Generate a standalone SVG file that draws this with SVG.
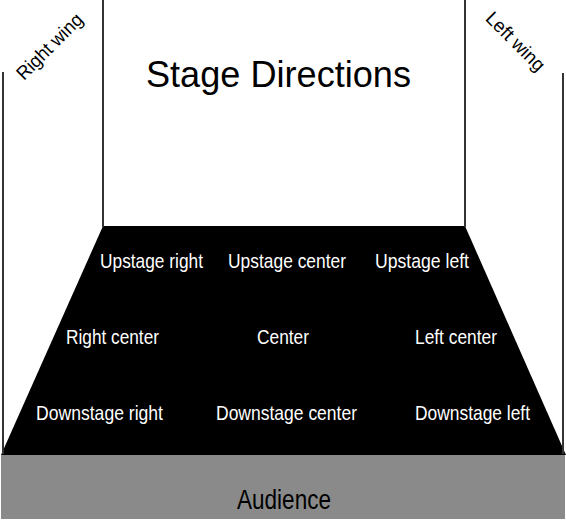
<svg xmlns="http://www.w3.org/2000/svg" width="566" height="520" viewBox="0 0 566 520">
<style>
.ln{stroke:#333;stroke-width:2;fill:none}
.w{fill:#fff;font-family:"Liberation Sans",Arial,sans-serif;font-size:21px}
.k{fill:#000;font-family:"Liberation Sans",Arial,sans-serif}
</style>
<rect x="0" y="0" width="566" height="520" fill="#fff"/>
<g id="audience">
<rect x="1" y="455" width="564" height="64" fill="#8a8a8a"/>
<text class="k" x="237" y="509" font-size="27" textLength="94" lengthAdjust="spacingAndGlyphs">Audience</text>
</g>
<g id="stage">
<polygon points="103,226 465,226 566,455 1,455" fill="#000"/>
</g>
<g id="connectors">
<line class="ln" x1="3" y1="72" x2="3" y2="454"/>
<line class="ln" x1="103" y1="0" x2="103" y2="227"/>
<line class="ln" x1="465" y1="0" x2="465" y2="227"/>
<line class="ln" x1="563" y1="73" x2="563" y2="454"/>
</g>
<g id="title">
<text class="k" x="146" y="87" font-size="36" textLength="265" lengthAdjust="spacingAndGlyphs">Stage Directions</text>
</g>
<g id="right-wing">
<text class="k" font-size="19" text-anchor="middle" textLength="85" lengthAdjust="spacingAndGlyphs" transform="translate(54,51) rotate(-45)">Right wing</text>
</g>
<g id="left-wing">
<text class="k" font-size="19" text-anchor="middle" textLength="75" lengthAdjust="spacingAndGlyphs" transform="translate(511,46) rotate(45)">Left wing</text>
</g>
<g id="upstage-right"><text class="w" x="100" y="268" textLength="103" lengthAdjust="spacingAndGlyphs">Upstage right</text></g>
<g id="upstage-center"><text class="w" x="228" y="268" textLength="118" lengthAdjust="spacingAndGlyphs">Upstage center</text></g>
<g id="upstage-left"><text class="w" x="375" y="268" textLength="94" lengthAdjust="spacingAndGlyphs">Upstage left</text></g>
<g id="right-center"><text class="w" x="66" y="344" textLength="93" lengthAdjust="spacingAndGlyphs">Right center</text></g>
<g id="center"><text class="w" x="257" y="344" textLength="52" lengthAdjust="spacingAndGlyphs">Center</text></g>
<g id="left-center"><text class="w" x="415" y="344" textLength="82" lengthAdjust="spacingAndGlyphs">Left center</text></g>
<g id="downstage-right"><text class="w" x="36" y="420" textLength="127" lengthAdjust="spacingAndGlyphs">Downstage right</text></g>
<g id="downstage-center"><text class="w" x="216" y="420" textLength="141" lengthAdjust="spacingAndGlyphs">Downstage center</text></g>
<g id="downstage-left"><text class="w" x="415" y="420" textLength="115" lengthAdjust="spacingAndGlyphs">Downstage left</text></g>
</svg>
